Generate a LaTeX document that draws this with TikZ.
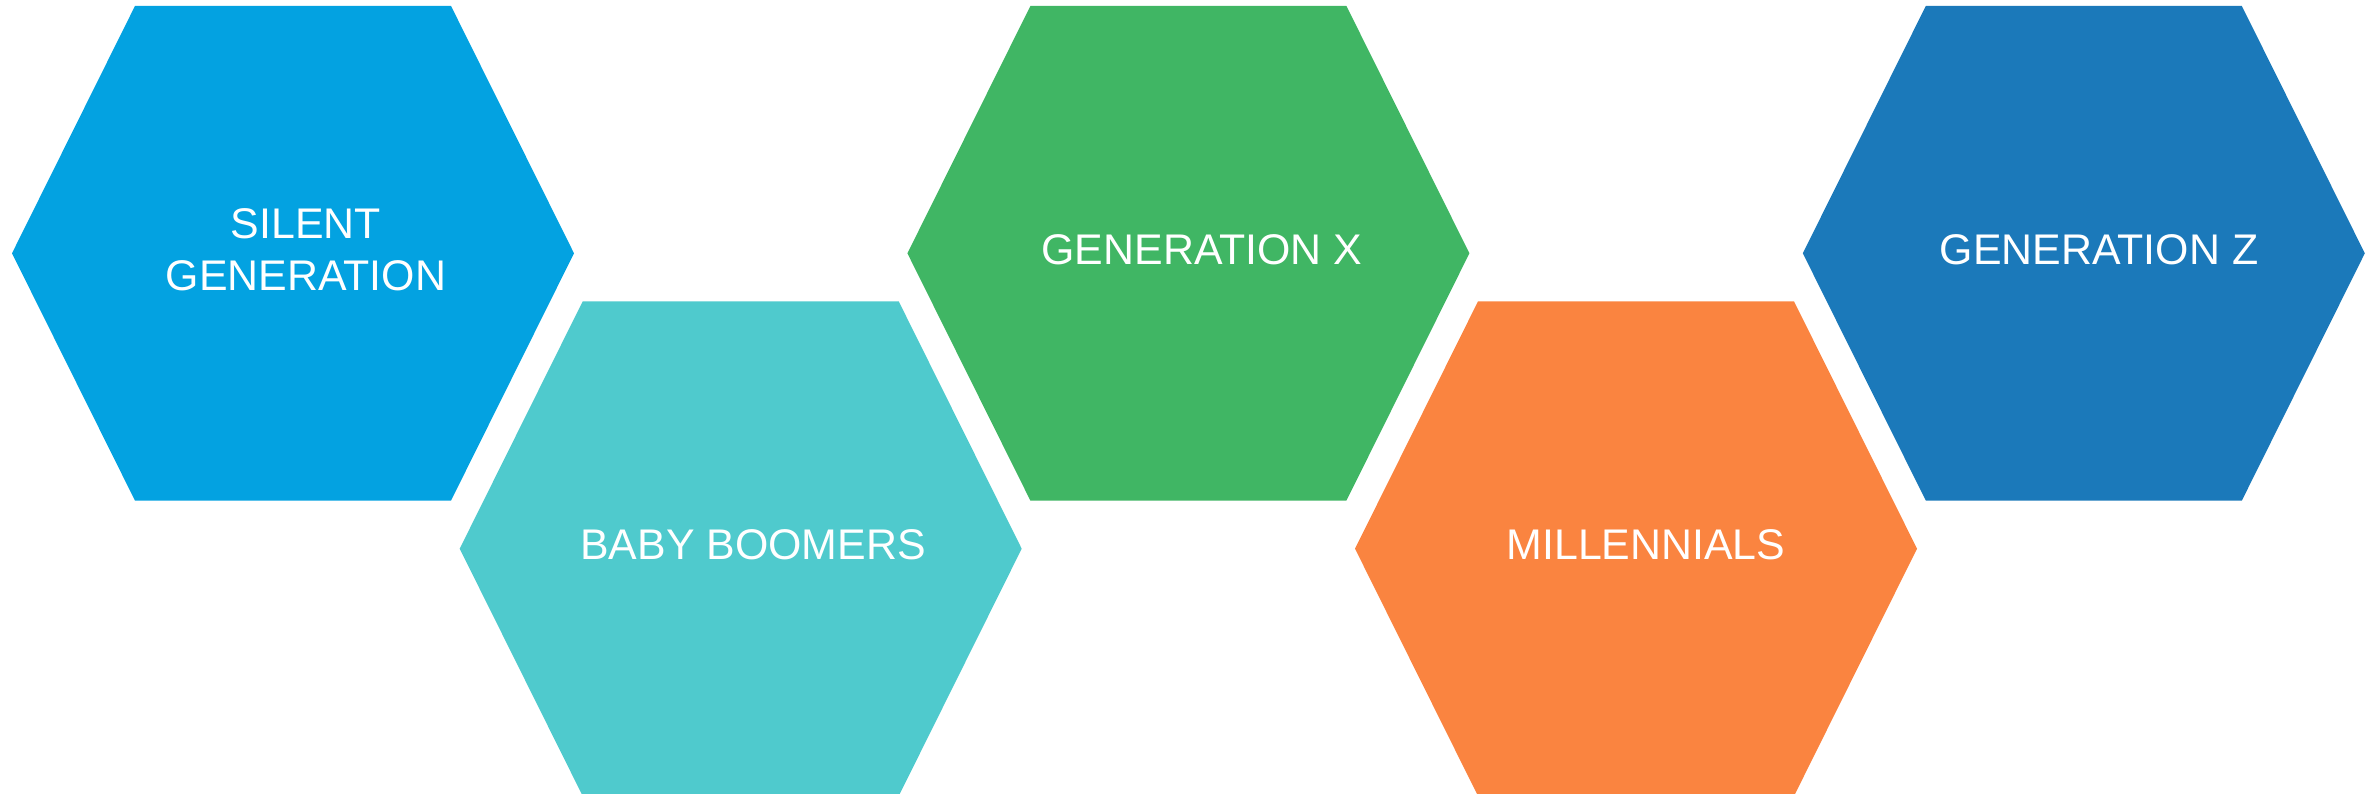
\documentclass[tikz,border=0pt]{standalone}
\usepackage{fontspec}
\usepackage{tikz}
\newfontfamily\genfont{Liberation Sans}
\definecolor{silentc}{RGB}{3,162,225}
\definecolor{boomerc}{RGB}{79,202,205}
\definecolor{genxc}{RGB}{64,182,100}
\definecolor{millenc}{RGB}{250,132,64}
\definecolor{genzc}{RGB}{27,121,186}

\begin{document}
\begin{tikzpicture}[x=0.1mm,y=-0.1mm]
\tikzstyle{hexlabel}=[text=white,font=\genfont\fontsize{12.2}{14.8}\selectfont,align=center,inner sep=0pt]
\useasboundingbox (0,0) rectangle (2374,794);

% hexagons: center x / center y / colour
\foreach \cx/\cy/\col in {293/253.3/silentc, 740.7/548.7/boomerc, 1188.4/253.3/genxc, 1636/548.7/millenc, 2083.8/253.3/genzc}
  \fill[\col] (\cx-281,\cy) -- ++(123,-247.35) -- ++(316,0) -- ++(123,247.35)
    -- ++(-123,247.35) -- ++(-316,0) -- cycle;

\node[hexlabel] (silent) at (306,250) {SILENT\\GENERATION};
\node[hexlabel] (boomers) at (753,545) {BABY BOOMERS};
\node[hexlabel] (genx) at (1202,250) {GENERATION X};
\node[hexlabel] (millen) at (1646,545) {MILLENNIALS};
\node[hexlabel] (genz) at (2099,250) {GENERATION Z};
\end{tikzpicture}
\end{document}
